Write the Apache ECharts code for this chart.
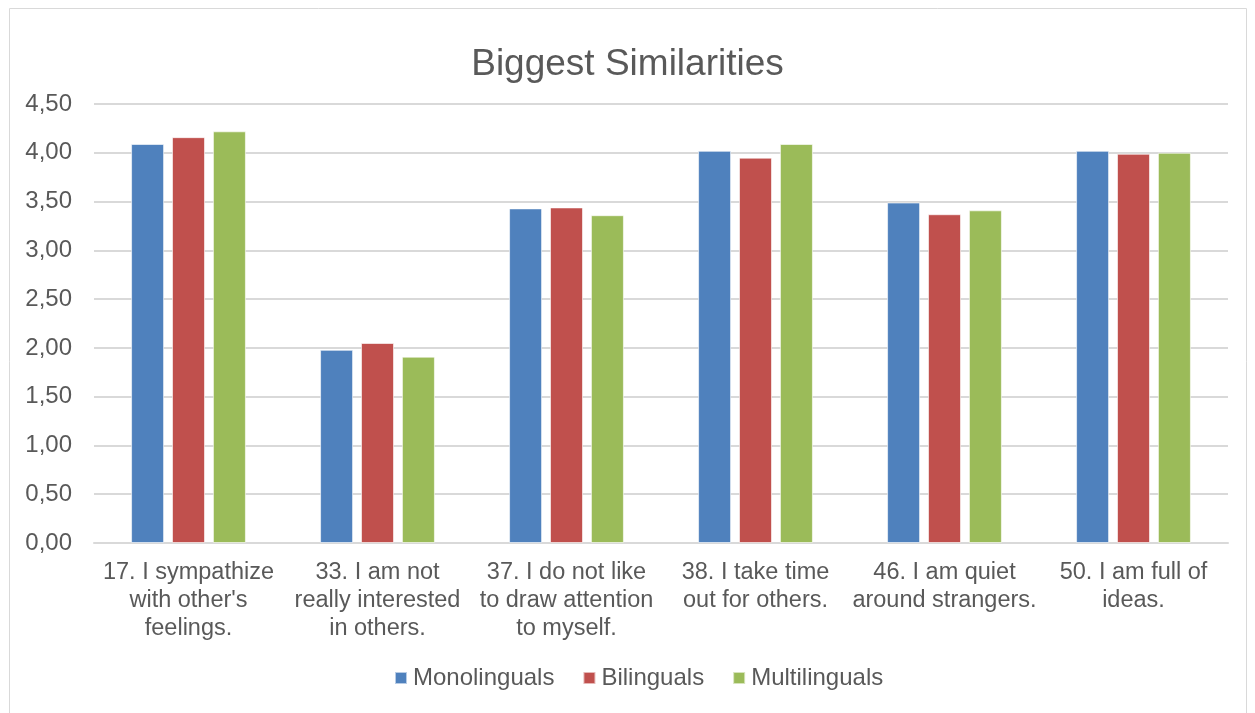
<!DOCTYPE html>
<html>
<head>
<meta charset="utf-8">
<script src="https://cdn.jsdelivr.net/npm/echarts@6/dist/echarts.min.js"></script>
<style>
html,body{margin:0;padding:0;background:#fff;}
#chart{width:1255px;height:713px;}
</style>
</head>
<body>
<div id="chart"></div>
<script>
const categories = [
  "17. I sympathize\nwith other's\nfeelings.",
  "33. I am not\nreally interested\nin others.",
  "37. I do not like\nto draw attention\nto myself.",
  "38. I take time\nout for others.",
  "46. I am quiet\naround strangers.",
  "50. I am full of\nideas."
];
const seriesNames = ["Monolinguals", "Bilinguals", "Multilinguals"];
const monolinguals = [4.09, 1.98, 3.43, 4.02, 3.49, 4.02];
const bilinguals = [4.16, 2.05, 3.44, 3.95, 3.37, 3.99];
const multilinguals = [4.22, 1.91, 3.36, 4.09, 3.41, 4.00];
const colors = ["#4F81BD", "#C0504D", "#9BBB59"];

const chart = echarts.init(document.getElementById('chart'));
const font = "'Liberation Sans', Arial, sans-serif";
const txt = "#595959";
const mk = (name, data, i) => ({
  name, type: 'bar', data,
  barWidth: 33, barGap: '24%',
  itemStyle: { color: colors[i], borderColor: 'rgba(255,255,255,0.6)', borderWidth: 1 }
});
chart.setOption({
  animation: false,
  textStyle: { fontFamily: font },
  graphic: [{
    type: 'rect', shape: { x: 9.5, y: 8.5, width: 1237, height: 730 },
    style: { fill: 'none', stroke: '#d9d9d9', lineWidth: 1 }, silent: true
  }],
  title: {
    text: 'Biggest Similarities', left: 'center', top: 41,
    textStyle: { fontFamily: font, fontSize: 37, fontWeight: 'normal', color: txt }
  },
  legend: {
    data: seriesNames, bottom: 18, left: 389,
    itemWidth: 12, itemHeight: 12, itemGap: 28, icon: 'rect',
    textStyle: { fontFamily: font, fontSize: 24, color: txt, padding: [0, 0, 0, 1] }
  },
  grid: { left: 94, right: 27, top: 104, bottom: 170 },
  xAxis: {
    type: 'category', data: categories,
    axisLine: { lineStyle: { color: '#d9d9d9', width: 2 } },
    axisTick: { show: false },
    axisLabel: { interval: 0, margin: 16, fontSize: 23.5, lineHeight: 28, color: txt, fontFamily: font }
  },
  yAxis: {
    type: 'value', min: 0, max: 4.5, interval: 0.5,
    axisLine: { show: false }, axisTick: { show: false },
    splitLine: { lineStyle: { color: '#d9d9d9', width: 2 } },
    axisLabel: {
      margin: 22, fontSize: 24, color: txt, fontFamily: font,
      formatter: v => v.toFixed(2).replace('.', ',')
    }
  },
  series: [mk(seriesNames[0], monolinguals, 0), mk(seriesNames[1], bilinguals, 1), mk(seriesNames[2], multilinguals, 2)]
});
</script>
</body>
</html>
